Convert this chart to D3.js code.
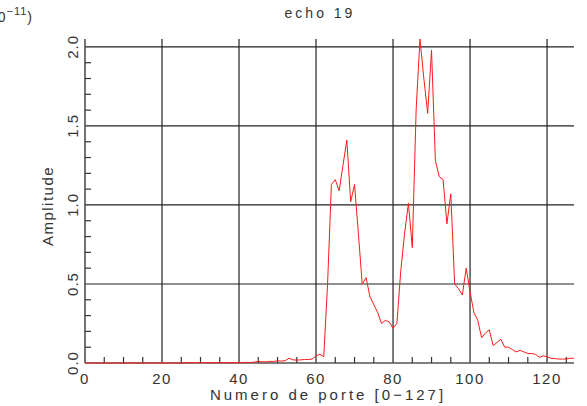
<!DOCTYPE html>
<html><head><meta charset="utf-8">
<script src="https://cdn.jsdelivr.net/npm/d3@7"></script>
<style>
html,body{margin:0;padding:0;background:#fff;}
svg{display:block;}
text{font-family:"Liberation Sans",Arial,sans-serif;fill:#333;}
</style></head>
<body>
<svg id="c" width="587" height="406"></svg>
<script>
// Amplitude (x 1e-11) for ports 0..127
const amplitude = [
  0,0,0,0,0,0,0,0,0,0, 0,0,0,0,0,0,0,0,0,0, 0,0,0,0,0,0,0,
  0.002,0.002,0.002,0.002,0.002,0.002,0.002,0.002,0.002,0.002,0.002,0.002,0.002,0.002,
  0.003,0.004,0.003,0.006,0.010,0.008,0.007,0.010,0.010,0.014,
  0.012,0.015,0.030,0.020,0.018,0.020,0.022,0.022,0.025,
  0.045,0.055,0.040,0.50,1.13,1.16,1.09,1.25,1.41,1.02,
  1.13,0.82,0.50,0.54,0.42,0.37,0.32,0.25,0.27,0.26,
  0.22,0.25,0.58,0.82,1.01,0.73,1.60,2.05,1.80,1.58,
  1.98,1.28,1.18,1.16,0.88,1.07,0.50,0.47,0.43,0.60,
  0.45,0.32,0.27,0.16,0.19,0.21,0.11,0.13,0.15,0.10,
  0.10,0.085,0.07,0.08,0.07,0.06,0.06,0.055,0.036,0.045,
  0.04,0.03,0.028,0.025,0.025,0.025,0.03,0.03
];
const xTicks = [0,20,40,60,80,100,120];
const yTicks = [0.0,0.5,1.0,1.5,2.0];
const xMinor = [5,10,15,25,30,35,45,50,55,65,70,75,85,90,95,105,110,115,125];
const yMinor = [0.1,0.2,0.3,0.4,0.6,0.7,0.8,0.9,1.1,1.2,1.3,1.4,1.6,1.7,1.8,1.9];
const titleText = "echo 19";
const xTitle = "Numero de porte [0\u2212127]";
const yTitle = "Amplitude";

const svg = d3.select("#c");
const x = d3.scaleLinear().domain([0,127]).range([85,574]);
const y = d3.scaleLinear().domain([0,2.05]).range([363,39]);
const gridCol = "#222";

// horizontal grid
svg.append("g").selectAll("line").data(yTicks.filter(d=>d>0)).join("line")
  .attr("x1",x(0)).attr("x2",x(127)).attr("y1",d=>y(d)).attr("y2",d=>y(d))
  .attr("stroke",gridCol).attr("stroke-width",1.2);
// vertical grid
svg.append("g").selectAll("line").data(xTicks.filter(d=>d>0)).join("line")
  .attr("x1",d=>x(d)).attr("x2",d=>x(d)).attr("y1",y(2.05)).attr("y2",y(0))
  .attr("stroke",gridCol).attr("stroke-width",1.2);
// axes
svg.append("line").attr("x1",x(0)).attr("x2",x(0)).attr("y1",y(2.05)).attr("y2",y(0))
  .attr("stroke","#444").attr("stroke-width",1.5);
svg.append("line").attr("x1",x(0)).attr("x2",x(127)).attr("y1",y(0)).attr("y2",y(0))
  .attr("stroke","#555").attr("stroke-width",1.5);
// minor ticks
svg.append("g").selectAll("line").data(xMinor).join("line")
  .attr("x1",d=>x(d)).attr("x2",d=>x(d)).attr("y1",y(0)).attr("y2",y(0)-6)
  .attr("stroke","#333").attr("stroke-width",1.2);
svg.append("g").selectAll("line").data(yMinor).join("line")
  .attr("x1",x(0)).attr("x2",x(0)+6).attr("y1",d=>y(d)).attr("y2",d=>y(d))
  .attr("stroke","#333").attr("stroke-width",1.2);

// data line
const line = d3.line().x((d,i)=>x(i)).y(d=>y(d));
svg.append("path").datum(amplitude).attr("d",line)
  .attr("fill","none").attr("stroke","#ff1a1a").attr("stroke-width",1);

// tick labels
svg.append("g").selectAll("text").data(xTicks).join("text")
  .attr("x",d=>x(d)).attr("y",384).attr("text-anchor","middle")
  .style("font-size","15px").style("letter-spacing","1.5px")
  .text(d=>d);
svg.append("g").selectAll("text").data(yTicks).join("text")
  .attr("transform",d=>`translate(78,${y(d)}) rotate(-90)`)
  .attr("text-anchor","middle")
  .style("font-size","15px").style("letter-spacing","1px")
  .text(d=>d.toFixed(1));

// titles
svg.append("text").attr("x",320).attr("y",18).attr("text-anchor","middle")
  .style("font-size","14px").style("letter-spacing","3px").text(titleText);
svg.append("text").attr("x",328).attr("y",400).attr("text-anchor","middle")
  .style("font-size","15px").style("letter-spacing","3px").text(xTitle);
svg.append("text").attr("transform","translate(53,206) rotate(-90)").attr("text-anchor","middle")
  .style("font-size","15px").style("letter-spacing","1.5px").text(yTitle);

// exponent label (clipped at the left edge)
const ex = svg.append("text").attr("x",33).attr("y",22).attr("text-anchor","end")
  .style("font-size","14px").style("letter-spacing","1px");
ex.append("tspan").text("(\u00d710");
ex.append("tspan").attr("dy",-7).style("font-size","11px").text("\u221211");
ex.append("tspan").attr("dy",7).text(")");
</script>
</body></html>
